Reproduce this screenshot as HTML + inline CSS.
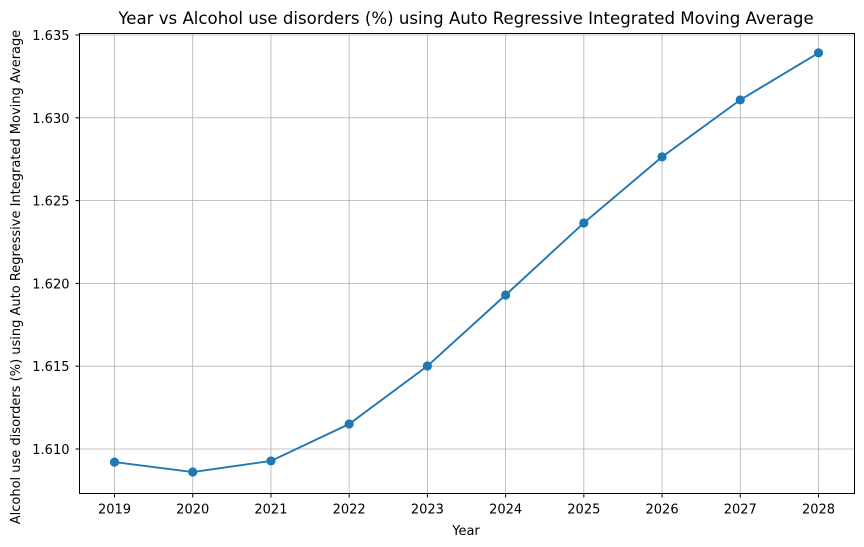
<!DOCTYPE html>
<html><head><meta charset="utf-8"><style>
body{margin:0;background:#fff;}
svg{display:block;font-family:"DejaVu Sans","Liberation Sans",sans-serif;}
</style></head><body>
<svg id="chart" width="864" height="547">
<text x="466" y="24" text-anchor="middle" font-size="16.6">Year vs Alcohol use disorders (%) using Auto Regressive Integrated Moving Average</text>
<text x="466" y="535" text-anchor="middle" font-size="13">Year</text>
<text transform="translate(20,277) rotate(-90)" text-anchor="middle" font-size="13">Alcohol use disorders (%) using Auto Regressive Integrated Moving Average</text>
<g id="grid"></g><g id="axes"></g><g id="series"></g>
<rect x="79.5" y="33.5" width="775" height="460" fill="none" stroke="#000" stroke-width="1"/>
</svg>
<script>
const years=[2019,2020,2021,2022,2023,2024,2025,2026,2027,2028];
const values=[1.60921,1.60861,1.60928,1.61151,1.61501,1.61930,1.62365,1.62764,1.63108,1.63392];
const yTicks=[1.610,1.615,1.620,1.625,1.630,1.635];
const L=79.5,R=854.5,T=33.5,B=493.5;
const x=v=>114.5+(v-2019)*(818-114)/9;
const y=v=>449-(v-1.610)*(449-35)/0.025;
const NS="http://www.w3.org/2000/svg";
function mk(tag,attrs,parent){const e=document.createElementNS(NS,tag);for(const k in attrs)e.setAttribute(k,attrs[k]);parent.appendChild(e);return e;}
const grid=document.getElementById('grid'),axes=document.getElementById('axes'),series=document.getElementById('series');
years.forEach(yr=>{
 const g=mk('line',{x1:x(yr),x2:x(yr),y1:T,y2:B,stroke:'#b0b0b0','stroke-width':0.8},grid);
 
 
 mk('line',{x1:x(yr),x2:x(yr),y1:B,y2:B+4,stroke:'#000'},axes);
 const t=mk('text',{x:x(yr),y:B+20,'text-anchor':'middle','font-size':13},axes);
 t.textContent=yr;
 
 
});
yTicks.forEach(v=>{
 const g=mk('line',{x1:L,x2:R,y1:y(v),y2:y(v),stroke:'#b0b0b0','stroke-width':0.8},grid);
 
 
 mk('line',{x1:L-4,x2:L,y1:y(v),y2:y(v),stroke:'#000'},axes);
 const t=mk('text',{x:L-10,y:y(v)+5,'text-anchor':'end','font-size':13},axes);
 t.textContent=v.toFixed(3);
 
 
});
const p=mk('path',{d:years.map((yr,i)=>(i?'L':'M')+x(yr)+','+y(values[i])).join(''),fill:'none',stroke:'#1f77b4','stroke-width':1.9},series);


years.forEach((yr,i)=>{
 const c=mk('circle',{cx:x(yr),cy:y(values[i]),r:4.6,fill:'#1f77b4'},series);
 
 
});
</script>
</body></html>
